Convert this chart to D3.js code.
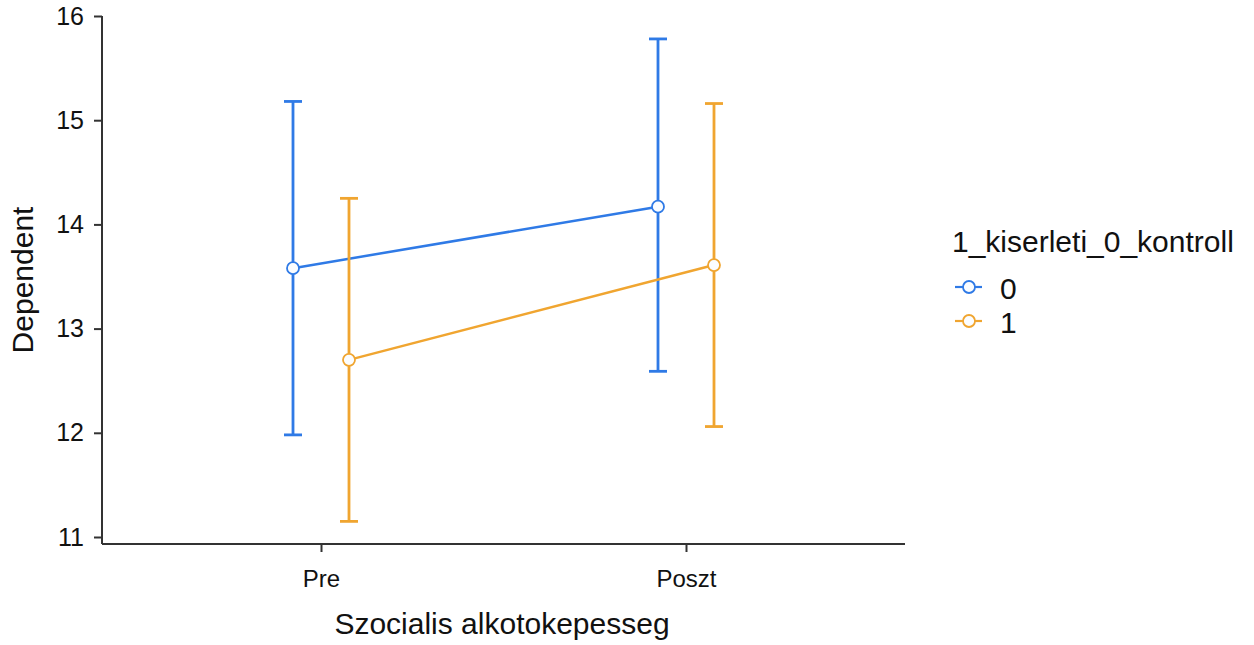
<!DOCTYPE html>
<html>
<head>
<meta charset="utf-8">
<script src="https://cdn.jsdelivr.net/npm/d3@7"></script>
<style>
  body { margin: 0; background: #fff; }
  text { font-family: "Liberation Sans", Arial, sans-serif; }
</style>
</head>
<body>
<div id="chart"></div>
<script>
// data
var categories = ["Pre", "Poszt"];
var groups = ["0", "1"];
var groupColors = ["#2f7ae6", "#f0a530"];
var means0 = [13.58, 14.17];
var lower0 = [11.98, 12.59];
var upper0 = [15.18, 15.78];
var means1 = [12.70, 13.61];
var lower1 = [11.15, 12.06];
var upper1 = [14.25, 15.16];
var yTicks = [11, 12, 13, 14, 15, 16];

var svgWidth = 1254;
var svgHeight = 645;

var svg = d3.select("#chart")
  .append("svg")
  .attr("width", svgWidth)
  .attr("height", svgHeight);

var xScale = d3.scalePoint()
  .domain(categories)
  .range([102, 905])
  .padding(0.6);

var yScale = d3.scaleLinear()
  .domain([11, 16])
  .range([537, 16]);

var dodge = d3.scalePoint()
  .domain(groups)
  .range([-28, 28]);

var series = [
  { key: "0", means: means0, lower: lower0, upper: upper0, color: groupColors[0] },
  { key: "1", means: means1, lower: lower1, upper: upper1, color: groupColors[1] }
];

// axes
var bottomY = 544;
var leftAxis = d3.axisLeft(yScale)
  .tickValues(yTicks)
  .tickFormat(d3.format("d"))
  .tickSize(8)
  .tickPadding(10);
var gy = svg.append("g")
  .attr("transform", "translate(102,0)")
  .call(leftAxis);
gy.select(".domain").remove();
gy.append("line")
  .attr("x1", 0).attr("x2", 0)
  .attr("y1", yScale(16)).attr("y2", bottomY)
  .attr("stroke", "#333").attr("stroke-width", 2);
gy.selectAll(".tick line").attr("stroke", "#333").attr("stroke-width", 2);
gy.selectAll(".tick text")
  .attr("font-size", "25px")
  .attr("font-family", "Liberation Sans, Arial, sans-serif")
  .attr("fill", "#111");

var bottomAxis = d3.axisBottom(xScale).tickSize(8).tickPadding(18);
var gx = svg.append("g")
  .attr("transform", `translate(0, ${bottomY})`)
  .call(bottomAxis);
gx.select(".domain").remove();
gx.append("line")
  .attr("x1", 102).attr("x2", 905)
  .attr("y1", 0).attr("y2", 0)
  .attr("stroke", "#333").attr("stroke-width", 2);
gx.selectAll(".tick line").attr("stroke", "#333").attr("stroke-width", 2);
gx.selectAll(".tick text")
  .attr("font-size", "24px")
  .attr("font-family", "Liberation Sans, Arial, sans-serif")
  .attr("fill", "#111");

// axis titles
svg.append("text")
  .attr("transform", "translate(33, 280) rotate(-90)")
  .attr("text-anchor", "middle")
  .attr("font-size", "30px")
  .attr("fill", "#111")
  .text("Dependent");

svg.append("text")
  .attr("x", 502)
  .attr("y", 634)
  .attr("text-anchor", "middle")
  .attr("font-size", "30px")
  .attr("fill", "#111")
  .text("Szocialis alkotokepesseg");

// marks
var capHalf = 9;
series.forEach(function(s) {
  var g = svg.append("g");
  var px = function(i) { return xScale(categories[i]) + dodge(s.key); };

  var line = d3.line()
    .x(function(d, i) { return px(i); })
    .y(function(d) { return yScale(d); });

  g.append("path")
    .datum(s.means)
    .attr("d", line)
    .attr("fill", "none")
    .attr("stroke", s.color)
    .attr("stroke-width", 2.5);

  categories.forEach(function(c, i) {
    var x = px(i);
    g.append("line")
      .attr("x1", x).attr("x2", x)
      .attr("y1", yScale(s.lower[i])).attr("y2", yScale(s.upper[i]))
      .attr("stroke", s.color).attr("stroke-width", 2.8);
    [s.lower[i], s.upper[i]].forEach(function(v) {
      g.append("line")
        .attr("x1", x - capHalf).attr("x2", x + capHalf)
        .attr("y1", yScale(v)).attr("y2", yScale(v))
        .attr("stroke", s.color).attr("stroke-width", 2.8);
    });
  });

  g.selectAll("circle")
    .data(s.means)
    .enter()
    .append("circle")
    .attr("cx", function(d, i) { return px(i); })
    .attr("cy", function(d) { return yScale(d); })
    .attr("r", 6)
    .attr("fill", "#fbfdff")
    .attr("stroke", s.color)
    .attr("stroke-width", 1.8);
});

// legend
var legend = svg.append("g").attr("transform", "translate(952, 0)");
legend.append("text")
  .attr("x", 0).attr("y", 252)
  .attr("font-size", "30px")
  .attr("fill", "#111")
  .text("1_kiserleti_0_kontroll");

series.forEach(function(s, i) {
  var cy = 287 + i * 34;
  legend.append("line")
    .attr("x1", 3).attr("x2", 30)
    .attr("y1", cy).attr("y2", cy)
    .attr("stroke", s.color).attr("stroke-width", 2.2);
  legend.append("circle")
    .attr("cx", 17).attr("cy", cy).attr("r", 6)
    .attr("fill", "#fbfdff").attr("stroke", s.color).attr("stroke-width", 1.8);
  legend.append("text")
    .attr("x", 48).attr("y", cy + 12)
    .attr("font-size", "30px")
    .attr("fill", "#111")
    .text(groups[i]);
});
</script>
</body>
</html>
